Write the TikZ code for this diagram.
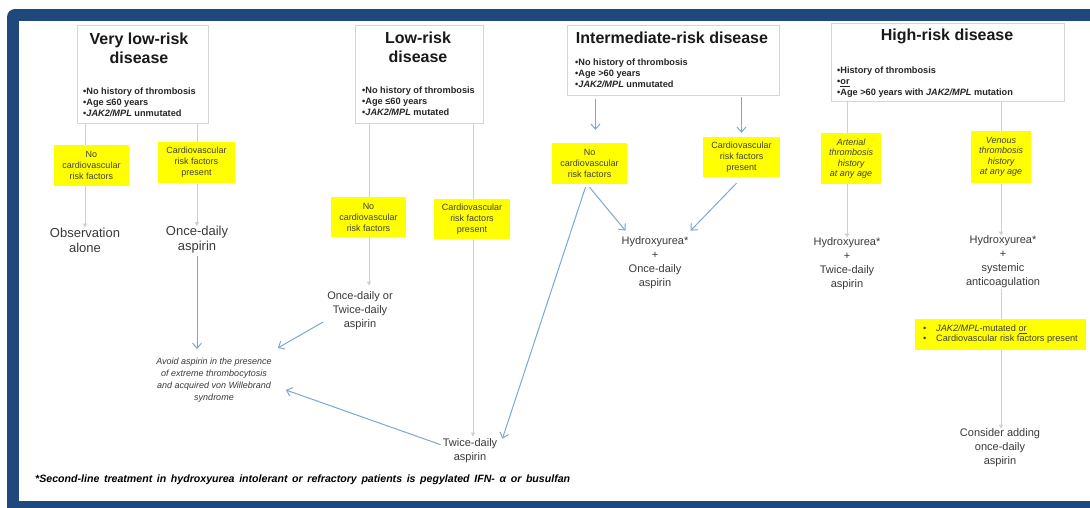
\documentclass[tikz,border=0pt]{standalone}
\usepackage{fontspec}
\setmainfont{Liberation Sans}
\usepackage{tikz}
\usepackage{xcolor}
\usetikzlibrary{arrows.meta}
\definecolor{framebg}{HTML}{1F497D}
\definecolor{hilite}{HTML}{FFFF00}
\definecolor{arrowblue}{HTML}{7FA7CE}
\definecolor{grayline}{HTML}{CDD0D4}
\definecolor{boxline}{HTML}{D6D6D6}
\definecolor{inktext}{HTML}{3A3A3A}

\begin{document}
\begin{tikzpicture}[x=1pt,y=-1pt,
  riskbox/.style={draw=boxline,fill=white,line width=0.9pt,inner sep=0pt},
  titletext/.style={font=\fontsize{16}{19}\selectfont\bfseries,align=center,text=black!90},
  crit/.style={font=\fontsize{9.2}{10.8}\selectfont\bfseries,align=left,anchor=north west,inner sep=0pt,text=black!85},
  ybox/.style={fill=hilite,inner sep=0pt,align=center,font=\fontsize{9}{11}\selectfont,text=black!75},
  outcome/.style={align=center,font=\fontsize{11}{14}\selectfont,text=inktext,inner sep=2pt},
  bigoutcome/.style={outcome,font=\fontsize{13}{15}\selectfont},
  grayarrow/.style={draw=grayline,line width=1pt,-{Triangle[width=4pt,length=4pt]}},
  bluearrow/.style={draw=arrowblue,line width=1pt,-{Straight Barb[length=5pt,width=9pt]}}]
\useasboundingbox (0,0) rectangle (1090,507);
% frame
\begin{scope}
\clip (0,0) rectangle (1090,507);
\fill[framebg,rounded corners=8pt] (7,9) rectangle (1120,540);
\fill[white] (19,21) rectangle (1095,501);
\end{scope}

% risk groups
\node[riskbox,minimum width=131,minimum height=98] (vlbox) at (142.5,74) {};
\node[titletext] (vltitle) at (139,48.5) {Very low-risk\\disease};
\node[crit] (vlcrit) at (83,88) {\textbullet No history of thrombosis\\\textbullet Age ≤60 years\\\textbullet\textit{JAK2/MPL} unmutated};

\node[riskbox,minimum width=128,minimum height=98] (lbox) at (419,74) {};
\node[titletext] (ltitle) at (418,47.5) {Low-risk\\disease};
\node[crit] (lcrit) at (362,87) {\textbullet No history of thrombosis\\\textbullet Age ≤60 years\\\textbullet\textit{JAK2/MPL} mutated};

\node[riskbox,minimum width=212,minimum height=70] (ibox) at (673,60) {};
\node[titletext] (ititle) at (672,38) {Intermediate-risk disease};
\node[crit] (icrit) at (575,59) {\textbullet No history of thrombosis\\\textbullet Age >60 years\\\textbullet\textit{JAK2/MPL} unmutated};

\node[riskbox,minimum width=233,minimum height=78] (hbox) at (947.5,62) {};
\node[titletext] (htitle) at (947,36) {High-risk disease};
\node[crit] (hcrit) at (837,67) {\textbullet History of thrombosis\\\textbullet\underline{or}\\\textbullet Age >60 years with \textit{JAK2/MPL} mutation};

% treatments
\node[bigoutcome] (obs) at (85,240) {Observation\\alone};
\node[bigoutcome] (vlasp) at (197,240) {Once-daily\\aspirin};
\node[outcome] (lasp) at (360,311) {Once-daily or\\Twice-daily\\aspirin};
\node[outcome,font=\fontsize{9}{11.8}\selectfont\itshape] (avoid) at (214,380) {Avoid aspirin in the presence\\of extreme thrombocytosis\\and acquired von Willebrand\\syndrome};
\node[outcome] (twice) at (470,451) {Twice-daily\\aspirin};
\node[outcome] (ihyd) at (655,263) {Hydroxyurea*\\+\\Once-daily\\aspirin};
\node[outcome] (hhyd) at (847,264) {Hydroxyurea*\\+\\Twice-daily\\aspirin};
\node[outcome] (vhyd) at (1003,262) {Hydroxyurea*\\+\\systemic\\anticoagulation};
\node[outcome] (consider) at (1000,448) {Consider adding\\once-daily\\aspirin};
\node[anchor=west,inner sep=0pt,font=\fontsize{10.6}{12}\selectfont\bfseries\itshape] (note) at (35,480)
  {\makebox[535pt][s]{*Second-line treatment in hydroxyurea intolerant or refractory patients is pegylated IFN- α or busulfan}};

% gray connectors (behind the yellow labels)
\draw[grayarrow] (vlbox.south -| obs) -- ([yshift=-2pt]obs.north);
\draw[grayarrow] (vlbox.south -| vlasp) -- ([yshift=-2pt]vlasp.north);
\draw[grayarrow] (369,123) coordinate (lnotop) -- ([yshift=4pt]lnotop |- lasp.north);
\draw[grayarrow] (473,123) coordinate (lcvtop) -- (lcvtop |- twice.north);
\draw[grayarrow] (hbox.south -| hhyd) -- ([yshift=-2pt]hhyd.north);
\draw[grayarrow] (1001,101) coordinate (hventop) -- ([yshift=-2pt]hventop |- vhyd.north);
\draw[grayarrow] ([yshift=1pt]vhyd.south -| hventop) -- ([yshift=-2pt]hventop |- consider.north);

% conditions
\node[ybox,minimum width=75,minimum height=41] (vlno) at (91.5,165.5) {No\\cardiovascular\\risk factors};
\node[ybox,minimum width=77,minimum height=41] (vlcv) at (196.5,162.5) {Cardiovascular\\risk factors\\present};
\node[ybox,minimum width=75,minimum height=40] (lno) at (368.5,217) {No\\cardiovascular\\risk factors};
\node[ybox,minimum width=76,minimum height=40] (lcv) at (472,219) {Cardiovascular\\risk factors\\present};
\node[ybox,minimum width=75,minimum height=41] (ino) at (589.5,163.5) {No\\cardiovascular\\risk factors};
\node[ybox,minimum width=77,minimum height=40] (icv) at (741.5,157) {Cardiovascular\\risk factors\\present};
\node[ybox,minimum width=60,minimum height=51,font=\fontsize{9}{10.5}\selectfont\itshape] (hart) at (851,158.5) {Arterial\\thrombosis\\history\\at any age};
\node[ybox,minimum width=60,minimum height=52,font=\fontsize{9}{10.5}\selectfont\itshape] (hven) at (1001,157) {Venous\\thrombosis\\history\\at any age};
\node[ybox,minimum width=171,minimum height=31,align=left,font=\fontsize{9.2}{9.8}\selectfont] (hadd) at (1000.5,334.5)
  {\makebox[13pt][l]{•}\textit{JAK2/MPL}-mutated \underline{or}\\\makebox[13pt][l]{•}Cardiovascular risk factors present};

% blue connectors
\draw[bluearrow] (vlasp.south) -- ([yshift=7pt]vlasp.south |- avoid.north);
\draw[bluearrow] ([xshift=-2pt,yshift=-11pt]lasp.west) -- ([xshift=4pt,yshift=8pt]avoid.north east);
\draw[bluearrow] ([yshift=-8pt]twice.north west) -- ([xshift=12pt,yshift=-10pt]avoid.east);
\draw[bluearrow] ([xshift=6pt,yshift=-4pt]ino.north |- ibox.south) -- ([xshift=6pt,yshift=13pt]ino.north);
\draw[bluearrow] ([yshift=-2pt]ibox.south -| icv) -- ([yshift=4pt]icv.north);
\draw[bluearrow] ([yshift=-3pt]ino.south) -- ([xshift=6pt,yshift=4pt]ihyd.north west);
\draw[bluearrow] ([xshift=-5pt,yshift=-6pt]icv.south) -- ([yshift=4pt]ihyd.north east);
\draw[bluearrow] ([xshift=-4pt,yshift=-3pt]ino.south) -- ([xshift=3pt,yshift=-2pt]twice.north east);
\end{tikzpicture}
\end{document}
